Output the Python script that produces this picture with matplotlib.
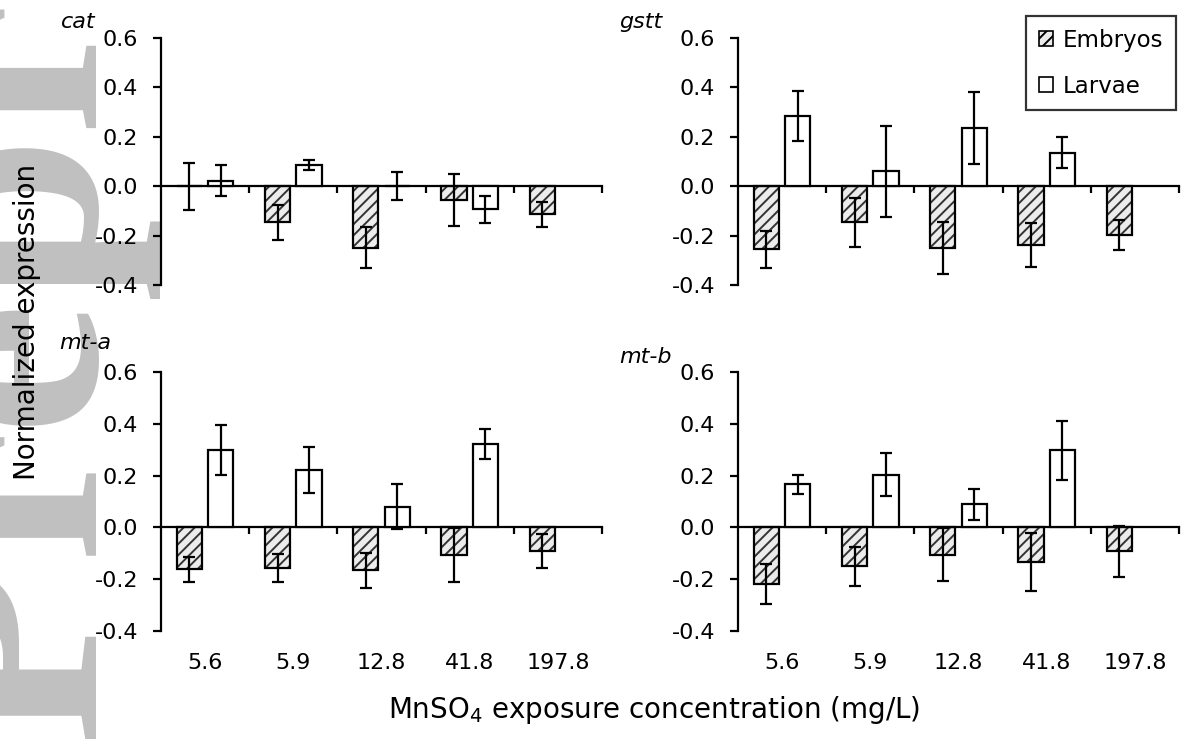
import numpy as np
import matplotlib
matplotlib.use("Agg")
import matplotlib.pyplot as plt
from matplotlib.patches import Patch

# concentrations (mg/L MnSO4) and the four genes
concentrations = ["5.6", "5.9", "12.8", "41.8", "197.8"]
genes = ["cat", "gstt", "mt-a", "mt-b"]

# normalized expression (mean, error)
cat_embryo = [0.0, -0.146, -0.25, -0.056, -0.114]
cat_embryo_err = [0.095, 0.071, 0.083, 0.105, 0.05]
cat_larvae = [0.023, 0.087, 0.0, -0.094, np.nan]
cat_larvae_err = [0.063, 0.02, 0.057, 0.055, np.nan]

gstt_embryo = [-0.255, -0.146, -0.25, -0.238, -0.196]
gstt_embryo_err = [0.075, 0.099, 0.105, 0.09, 0.061]
gstt_larvae = [0.284, 0.06, 0.236, 0.135, np.nan]
gstt_larvae_err = [0.10, 0.183, 0.146, 0.063, np.nan]

mta_embryo = [-0.162, -0.157, -0.165, -0.107, -0.092]
mta_embryo_err = [0.047, 0.055, 0.068, 0.104, 0.065]
mta_larvae = [0.299, 0.22, 0.08, 0.322, np.nan]
mta_larvae_err = [0.098, 0.089, 0.088, 0.056, np.nan]

mtb_embryo = [-0.217, -0.15, -0.105, -0.134, -0.093]
mtb_embryo_err = [0.077, 0.075, 0.102, 0.113, 0.099]
mtb_larvae = [0.166, 0.204, 0.089, 0.297, np.nan]
mtb_larvae_err = [0.037, 0.084, 0.059, 0.113, np.nan]

y_ticks = [-0.4, -0.2, 0.0, 0.2, 0.4, 0.6]

W, H = 1184, 744
BAR_W = 0.285
OFF = 0.178
EMB_FILL = "#ececec"
HATCH_COL = "#333333"
SMALL = 16

plt.rcParams["font.family"] = ["DejaVu Sans"]
plt.rcParams["hatch.linewidth"] = 1.4


def px_axes(fig, x0, x1, ytop, ybot):
    return fig.add_axes([x0 / W, 1 - ybot / H, (x1 - x0) / W, (ybot - ytop) / H])


def draw_panel(ax, emb, emb_err, lar, lar_err, show_labels):
    x = np.arange(len(concentrations))
    ax.patch.set_alpha(0)
    ax.bar(x - OFF, emb, BAR_W, color=EMB_FILL, hatch="///",
           edgecolor=HATCH_COL, linewidth=0, zorder=2)
    ax.bar(x - OFF, emb, BAR_W, fill=False, edgecolor="black",
           linewidth=1.6, zorder=3)
    ax.bar(x + OFF, lar, BAR_W, color="white", edgecolor="black",
           linewidth=1.6, zorder=3)
    for xs, v, e in [(x - OFF, emb, emb_err), (x + OFF, lar, lar_err)]:
        ax.errorbar(xs, v, yerr=e, fmt="none", ecolor="black",
                    elinewidth=1.6, capsize=4.3, capthick=1.6, zorder=4)

    ax.set_xlim(-0.5, len(concentrations) - 0.5)
    ax.set_ylim(-0.4, 0.6)
    ax.spines[["top", "right"]].set_visible(False)
    ax.spines["left"].set_bounds(-0.4, 0.6)
    ax.spines["bottom"].set_position(("data", 0))
    for s in ["left", "bottom"]:
        ax.spines[s].set_linewidth(1.6)
    ax.set_yticks(y_ticks)
    ax.set_yticklabels([f"{t:.1f}" for t in y_ticks])
    ax.set_xticks(np.arange(len(concentrations)) + 0.5)
    ax.set_xticklabels([])
    ax.tick_params(axis="y", direction="out", length=5.5, width=1.6,
                   labelsize=SMALL, pad=11)
    ax.tick_params(axis="x", direction="out", length=5, width=1.6)

    if show_labels:
        for i, c in enumerate(concentrations):
            ax.annotate(c, xy=(i, 0), xycoords=("data", "axes fraction"),
                        xytext=(0, -23), textcoords="offset points",
                        ha="center", va="center", fontsize=SMALL)


fig = plt.figure(figsize=(W / 100, H / 100), dpi=100)

# faint watermark along the left edge
fig.text(92 / W, 1 - 740 / H, "Preprint", rotation=90, rotation_mode="anchor",
         ha="left", va="baseline", fontsize=216, family="Liberation Serif",
         weight="bold", color="#c0c0c0", zorder=-10)

ax_cat = px_axes(fig, 161, 602, 38, 285)
ax_gstt = px_axes(fig, 738, 1179, 38, 285)
ax_mta = px_axes(fig, 161, 602, 372, 631)
ax_mtb = px_axes(fig, 738, 1179, 372, 631)

draw_panel(ax_cat, cat_embryo, cat_embryo_err, cat_larvae, cat_larvae_err, False)
draw_panel(ax_gstt, gstt_embryo, gstt_embryo_err, gstt_larvae, gstt_larvae_err, False)
draw_panel(ax_mta, mta_embryo, mta_embryo_err, mta_larvae, mta_larvae_err, True)
draw_panel(ax_mtb, mtb_embryo, mtb_embryo_err, mtb_larvae, mtb_larvae_err, True)

# gene names
for name, (gx, gy) in zip(genes, [(61, 22), (619, 22), (59, 343), (619, 357)]):
    fig.text(gx / W, 1 - gy / H, name, style="italic", fontsize=SMALL,
             ha="left", va="center")

fig.text(27 / W, 1 - 322 / H, "Normalized expression", rotation=90,
         ha="center", va="center", fontsize=20, zorder=5)
fig.text(654 / W, 1 - 710 / H, "MnSO$_4$ exposure concentration (mg/L)",
         ha="center", va="center", fontsize=20)

handles = [Patch(facecolor=EMB_FILL, edgecolor="black", hatch="///", linewidth=1.2),
           Patch(facecolor="white", edgecolor="black", linewidth=1.2)]
leg = fig.legend(handles, ["Embryos", "Larvae"], loc="upper right",
                 bbox_to_anchor=(1176 / W, 1 - 16 / H), fontsize=16.5,
                 frameon=True, fancybox=False, handlelength=0.6,
                 handleheight=0.6, handletextpad=0.45, labelspacing=1.0,
                 borderpad=0.55, borderaxespad=0)
leg.get_frame().set_edgecolor("black")
leg.get_frame().set_linewidth(1.6)

fig.savefig("out.png", dpi=100)
